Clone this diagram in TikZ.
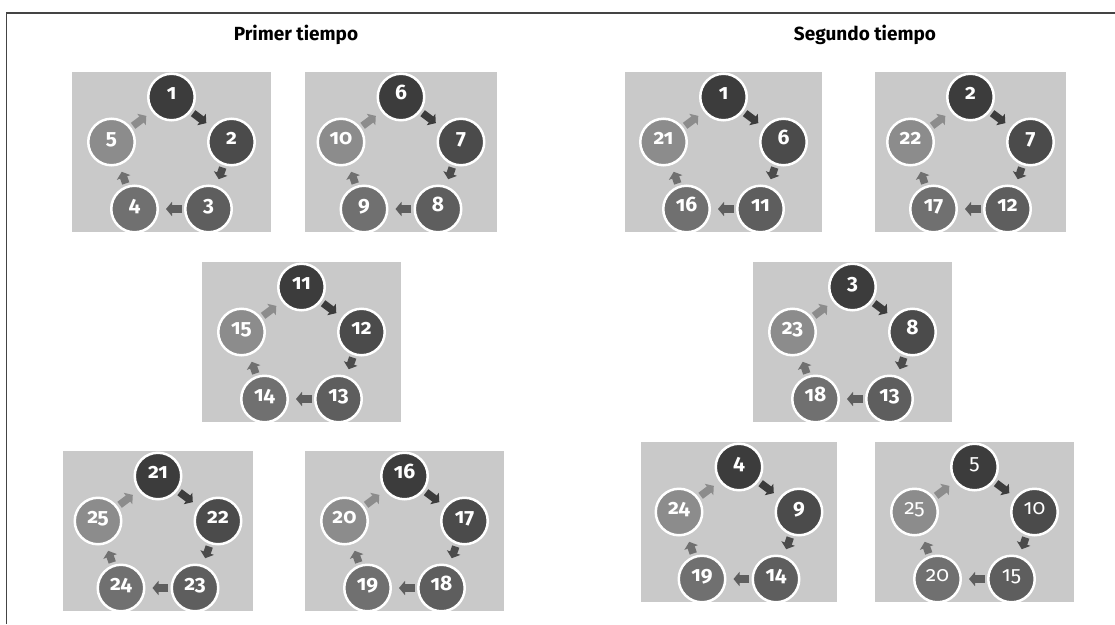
\documentclass[tikz,border=0pt]{standalone}
\usepackage{fontspec}
\setmainfont{Fira Sans}[Numbers=OldStyle]
\usetikzlibrary{arrows.meta}
\definecolor{boxgray}{HTML}{C9C9C9}
\definecolor{cA}{HTML}{3C3C3C}
\definecolor{cB}{HTML}{4B4B4B}
\definecolor{cC}{HTML}{5E5E5E}
\definecolor{cD}{HTML}{707070}
\definecolor{cE}{HTML}{8C8C8C}
\definecolor{framegray}{HTML}{444444}
\newcommand\numfont{\fontsize{21}{22}\selectfont\bfseries}
\tikzset{
  panel/.style={fill=boxgray, draw=none, inner sep=0pt, minimum height=160pt},
  num/.style={circle, minimum size=46.5pt, inner sep=0pt, draw=white, line width=2.5pt,
    text=white, font=\numfont, text height=1ex, text depth=0pt},
  flow/.style={line width=7.5pt, -{Triangle[width=14pt,length=6pt]}, shorten <=2.5pt, shorten >=7pt},
  title/.style={font=\bfseries\fontsize{19}{21}\selectfont, inner sep=0pt},
}
% #1 prefix, #2 centre x, #3 top, #4 half width, #5..#9 labels
\newcommand\rotgroup[9]{%
  \node[panel, minimum width={2*#4}] (#1p) at (#2,{#3+80}) {};
  \node[num, fill=cA] (#1a) at (#2,{#3+25}) {#5};
  \node[num, fill=cB] (#1b) at ({#2+60},{#3+70}) {#6};
  \node[num, fill=cC] (#1c) at ({#2+37},{#3+137}) {#7};
  \node[num, fill=cD] (#1d) at ({#2-37},{#3+137}) {#8};
  \node[num, fill=cE] (#1e) at ({#2-60},{#3+70}) {#9};
  \draw[flow, cA] (#1a) -- (#1b);
  \draw[flow, cB] (#1b) -- (#1c);
  \draw[flow, cC] (#1c) -- (#1d);
  \draw[flow, cD] (#1d) -- (#1e);
  \draw[flow, cE] (#1e) -- (#1a);
}
\begin{document}
\begin{tikzpicture}[x=1pt,y=-1pt]
\useasboundingbox (0,0) rectangle (1115,624);
\draw[framegray, line width=1.8pt] (1115,13) -- (6.5,13) -- (6.5,624);
\node[title] (t1) at (296,35) {Primer tiempo};
\node[title] (t2) at (865,35) {Segundo tiempo};
% Primer tiempo
\rotgroup{A}{171.5}{72}{99.5}{1}{2}{3}{4}{5}
\rotgroup{B}{401}{72}{96}{6}{7}{8}{9}{10}
\rotgroup{C}{301.5}{262}{99.5}{11}{12}{13}{14}{15}
\rotgroup{D}{158}{451}{95}{21}{22}{23}{24}{25}
\rotgroup{E}{404.5}{451}{99.5}{16}{17}{18}{19}{20}
% Segundo tiempo
\rotgroup{F}{723.5}{72}{98.5}{1}{6}{11}{16}{21}
\rotgroup{G}{970.5}{72}{95.5}{2}{7}{12}{17}{22}
\rotgroup{H}{852.5}{262}{99.5}{3}{8}{13}{18}{23}
\rotgroup{I}{739}{442}{98}{4}{9}{14}{19}{24}
\renewcommand\numfont{\fontsize{21}{22}\selectfont\mdseries}
\rotgroup{J}{974.5}{442}{99.5}{5}{10}{15}{20}{25}
\end{tikzpicture}
\end{document}
